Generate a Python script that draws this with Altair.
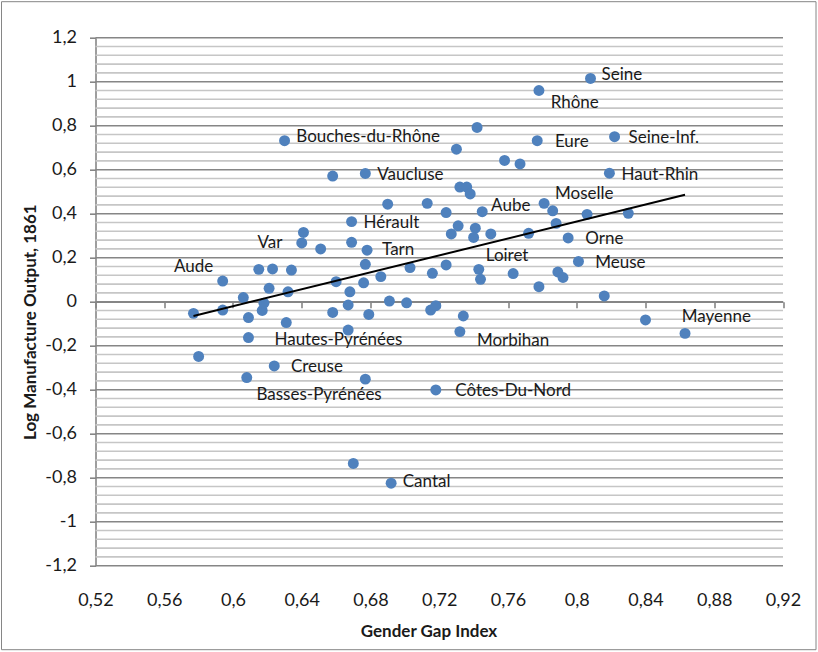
import altair as alt
import pandas as pd

# Gender gap index and log manufacturing output (1861) by département
gender_gap = [
    0.808, 0.778, 0.630, 0.742, 0.777, 0.822, 0.730, 0.758, 0.767, 0.658,
    0.677, 0.819, 0.732, 0.736, 0.738, 0.690, 0.713, 0.724, 0.745, 0.781,
    0.786, 0.806, 0.830, 0.788, 0.731, 0.727, 0.741, 0.740, 0.750, 0.772,
    0.795, 0.669, 0.641, 0.640, 0.651, 0.669, 0.678, 0.801, 0.763, 0.789,
    0.792, 0.778, 0.816, 0.594, 0.615, 0.623, 0.634, 0.621, 0.632, 0.606,
    0.677, 0.703, 0.724, 0.743, 0.744, 0.686, 0.716, 0.660, 0.676, 0.668,
    0.691, 0.701, 0.715, 0.718, 0.734, 0.732, 0.679, 0.658, 0.667, 0.667,
    0.577, 0.594, 0.609, 0.609, 0.617, 0.618, 0.631, 0.580, 0.624, 0.608,
    0.677, 0.718, 0.670, 0.692, 0.840, 0.863,
]
log_output = [
    1.015, 0.960, 0.732, 0.792, 0.732, 0.750, 0.693, 0.642, 0.626, 0.571,
    0.583, 0.584, 0.521, 0.521, 0.490, 0.443, 0.447, 0.405, 0.409, 0.447,
    0.413, 0.397, 0.402, 0.356, 0.345, 0.308, 0.334, 0.292, 0.308, 0.311,
    0.290, 0.364, 0.315, 0.267, 0.240, 0.270, 0.234, 0.183, 0.128, 0.135,
    0.110, 0.068, 0.026, 0.094, 0.147, 0.149, 0.144, 0.061, 0.045, 0.019,
    0.170, 0.155, 0.167, 0.147, 0.102, 0.114, 0.129, 0.091, 0.086, 0.045,
    0.003, -0.005, -0.038, -0.018, -0.065, -0.136, -0.058, -0.049, -0.015, -0.129,
    -0.053, -0.038, -0.072, -0.163, -0.040, -0.007, -0.095, -0.249, -0.292, -0.345,
    -0.352, -0.401, -0.735, -0.825, -0.083, -0.144,
]
department = [
    "Seine", "Rhône", "Bouches-du-Rhône", "", "Eure", "Seine-Inf.", "", "", "", "",
    "Vaucluse", "Haut-Rhin", "", "", "", "", "", "", "Aube", "Moselle",
    "", "", "", "", "", "", "", "", "", "",
    "Orne", "Hérault", "", "Var", "", "", "Tarn", "Meuse", "", "",
    "", "", "", "Aude", "", "", "", "", "", "",
    "", "", "", "Loiret", "", "", "", "", "", "",
    "", "", "", "", "", "Morbihan", "", "", "", "",
    "", "", "", "Hautes-Pyrénées", "", "", "", "", "Creuse", "Basses-Pyrénées",
    "", "Côtes-Du-Nord", "", "Cantal", "", "Mayenne",
]

x_ticks = [0.52, 0.56, 0.6, 0.64, 0.68, 0.72, 0.76, 0.8, 0.84, 0.88, 0.92]
y_major = [-1.2, -1.0, -0.8, -0.6, -0.4, -0.2, 0.0, 0.2, 0.4, 0.6, 0.8, 1.0, 1.2]
y_minor = [round(-1.2 + 0.04 * i, 2) for i in range(61)]
y_minor = [v for v in y_minor if round(v * 5, 6) != round(v * 5)]

# label placement: (dx, dy, align)
label_style = {
    "Seine": (11, -3.5, "left"),
    "Rhône": (11.7, 12.2, "left"),
    "Bouches-du-Rhône": (11.7, -4, "left"),
    "Eure": (17.7, 1, "left"),
    "Seine-Inf.": (14, 1, "left"),
    "Vaucluse": (12, 1.5, "left"),
    "Haut-Rhin": (12.2, 1.7, "left"),
    "Aube": (8.9, -6, "left"),
    "Moselle": (11, -9, "left"),
    "Orne": (17.2, 1.5, "left"),
    "Hérault": (12, 1, "left"),
    "Tarn": (15, -0.3, "left"),
    "Meuse": (16.7, 1.2, "left"),
    "Var": (-19.3, 0, "right"),
    "Aude": (-9.5, -14.3, "right"),
    "Loiret": (7, -13.6, "left"),
    "Hautes-Pyrénées": (26, 2.5, "left"),
    "Creuse": (16.7, 1.3, "left"),
    "Basses-Pyrénées": (9.7, 17.3, "left"),
    "Morbihan": (17, 9, "left"),
    "Côtes-Du-Nord": (19.5, 0.7, "left"),
    "Cantal": (11.6, -1, "left"),
    "Mayenne": (-3.3, -16.6, "left"),
}

W, H = 687.5, 528
FONT = "Lato"
GRAY = "#868686"
DOT = "#4f81bd"
INK = "#1a1a1a"
comma = "replace(toString(datum.value), '.', ',')"

pts = pd.DataFrame({"ggi": gender_gap, "lmo": log_output, "dept": department})
xs = alt.Scale(domain=[0.52, 0.92], nice=False, zero=False)
ys = alt.Scale(domain=[-1.2, 1.2], nice=False, zero=False)

# x axis line sits at y = 0, its labels stay at the bottom of the plot
x_axis = alt.Axis(
    values=x_ticks, labelExpr=comma, offset=-H / 2, grid=False, ticks=True,
    domainColor=GRAY, domainWidth=1.6, tickColor=GRAY, tickSize=6, tickWidth=1.6,
    labelPadding=284, labelFont=FONT, labelFontSize=18, labelColor=INK,
    labelFlush=False, labelOverlap=False,
    title="Gender Gap Index", titleFont=FONT, titleFontSize=17, titleFontWeight="bold",
    titleColor=INK, titleX=333, titleY=330, titleBaseline="middle",
    titleAlign="center",
)
y_axis = alt.Axis(
    values=y_major, labelExpr=comma, grid=False,
    domainColor=GRAY, domainWidth=1.6, tickColor=GRAY, tickSize=6, tickWidth=1.6,
    labelPadding=13, labelFont=FONT, labelFontSize=18, labelColor=INK,
    labelFlush=False, labelOverlap=False,
    title="Log Manufacture Output, 1861", titleFont=FONT, titleFontSize=17,
    titleFontWeight="bold", titleColor=INK, titleAngle=270,
    titleX=-65.5, titleY=284, titleBaseline="middle", titleAlign="center",
)

# horizontal gridlines: light minor every 0.04, darker major every 0.2
minor = alt.Chart(pd.DataFrame({"v": y_minor})).mark_rule(
    color="#c6c6c6", strokeWidth=1.6
).encode(y=alt.Y("v:Q", scale=ys, axis=y_axis))

major = alt.Chart(pd.DataFrame({"v": y_major})).mark_rule(
    color=GRAY, strokeWidth=1.6
).encode(y=alt.Y("v:Q", scale=ys, axis=y_axis))

frame = alt.Chart(pd.DataFrame({"k": [0]})).mark_rect(
    fillOpacity=0, stroke=GRAY, strokeWidth=1
).encode(
    x=alt.value(-94), x2=alt.value(W + 33), y=alt.value(-36), y2=alt.value(H + 84)
)

points = alt.Chart(pts).mark_circle(size=120, color=DOT, opacity=1).encode(
    x=alt.X("ggi:Q", scale=xs, axis=x_axis),
    y=alt.Y("lmo:Q", scale=ys, axis=y_axis),
)

trend = alt.Chart(pts).transform_regression("ggi", "lmo").mark_line(
    color="black", strokeWidth=2
).encode(x=alt.X("ggi:Q", scale=xs, axis=x_axis), y=alt.Y("lmo:Q", scale=ys, axis=y_axis))

labels = []
for name, (dx, dy, align) in label_style.items():
    labels.append(
        alt.Chart(pts).transform_filter(alt.datum.dept == name).mark_text(
            dx=dx, dy=dy, align=align, baseline="middle",
            font=FONT, fontSize=17, color=INK
        ).encode(
            x=alt.X("ggi:Q", scale=xs, axis=x_axis),
            y=alt.Y("lmo:Q", scale=ys, axis=y_axis),
            text="dept:N",
        )
    )

chart = alt.layer(frame, minor, major, points, trend, *labels).properties(
    width=W, height=H,
    autosize=alt.AutoSizeParams(type="none"),
    padding={"left": 95.5, "top": 37.7, "right": 35, "bottom": 86.3},
    background="white",
).configure_view(stroke=None)

chart.save("out.html", embed_options={"renderer": "svg", "actions": False})
